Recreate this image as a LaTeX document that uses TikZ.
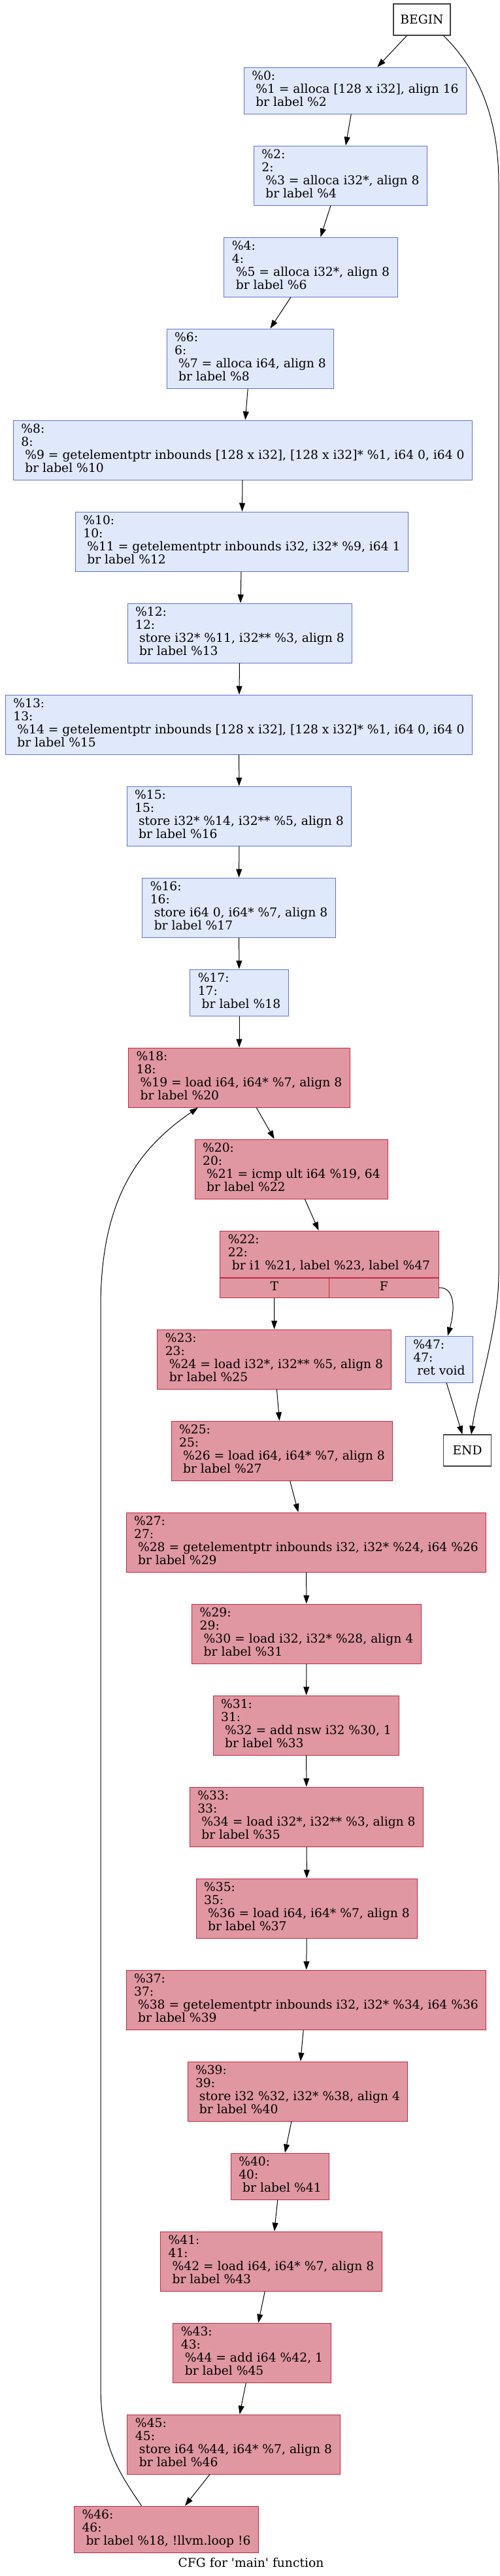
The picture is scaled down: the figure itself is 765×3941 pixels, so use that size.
\documentclass[tikz,border=0pt]{standalone}
\usepackage{fontspec}
\usetikzlibrary{arrows.meta}
\newfontfamily\cfgfont{DejaVu Serif}
\definecolor{coldfill}{HTML}{E0E9FB}
\definecolor{colddraw}{HTML}{5F72D4}
\definecolor{hotfill}{HTML}{E097A1}
\definecolor{hotdraw}{HTML}{C42743}
\begin{document}
\begin{tikzpicture}[x=1pt, y=-1pt,
  bb/.style={draw=colddraw, fill=coldfill, line width=1pt, align=left, inner xsep=12pt, inner ysep=0pt,
    minimum height=91pt, font=\cfgfont\fontsize{18.7}{20}\selectfont,
    execute at begin node=\strut, execute at end node=\strut},
  hot/.style={bb, draw=hotdraw, fill=hotfill},
  threeline/.style={minimum height=71pt},
  cell/.style={hot, align=center, inner xsep=0pt, minimum width=167.5pt, minimum height=30pt},
  term/.style={draw=black!75, line width=1.1pt, minimum height=48pt, inner sep=0pt, font=\cfgfont\fontsize{18.7}{20}\selectfont},
  flow/.style={line width=1pt, -{Triangle[length=13pt,width=9pt]}}]
\useasboundingbox (0,0) rectangle (765,3941);
% entry part
\node[term, minimum width=87pt] (begin) at (645.5,30) {BEGIN};
\node[bb, threeline] (bb0) at (543.5,138.5) {\%0:\\~\%1 = alloca [128 x i32], align 16\\~br label \%2};
\node[bb] (bb2) at (521,268.5) {\%2:\\2:\\~\%3 = alloca i32*, align 8\\~br label \%4};
\node[bb] (bb4) at (475.5,408.5) {\%4:\\4:\\~\%5 = alloca i32*, align 8\\~br label \%6};
\node[bb] (bb6) at (383,548.5) {\%6:\\6:\\~\%7 = alloca i64, align 8\\~br label \%8};
\node[bb] (bb8) at (371.5,688.5) {\%8:\\8:\\~\%9 = getelementptr inbounds [128 x i32], [128 x i32]* \%1, i64 0, i64 0\\~br label \%10};
\node[bb] (bb10) at (370,828.5) {\%10:\\10:\\~\%11 = getelementptr inbounds i32, i32* \%9, i64 1\\~br label \%12};
\node[bb] (bb12) at (367,968.5) {\%12:\\12:\\~store i32* \%11, i32** \%3, align 8\\~br label \%13};
\node[bb] (bb13) at (365.5,1108.5) {\%13:\\13:\\~\%14 = getelementptr inbounds [128 x i32], [128 x i32]* \%1, i64 0, i64 0\\~br label \%15};
\node[bb] (bb15) at (366,1248.5) {\%15:\\15:\\~store i32* \%14, i32** \%5, align 8\\~br label \%16};
\node[bb] (bb16) at (365.5,1388.5) {\%16:\\16:\\~store i64 0, i64* \%7, align 8\\~br label \%17};
\node[bb, threeline] (bb17) at (366,1518.5) {\%17:\\17:\\~br label \%18};
% loop
\node[hot] (bb18) at (366,1648.5) {\%18:\\18:\\~\%19 = load i64, i64* \%7, align 8\\~br label \%20};
\node[hot] (bb20) at (446,1788.5) {\%20:\\20:\\~\%21 = icmp ult i64 \%19, 64\\~br label \%22};
\node[hot, threeline, minimum width=335pt] (bb22) at (503.5,1918.5) {\%22:\\22:\\~br i1 \%21, label \%23, label \%47};
\node[cell, anchor=north west] (bb22t) at (bb22.south west) {T};
\node[cell, anchor=north east] (bb22f) at (bb22.south east) {F};
\node[hot] (bb23) at (419.5,2079.5) {\%23:\\23:\\~\%24 = load i32*, i32** \%5, align 8\\~br label \%25};
\node[bb, threeline] (bb47) at (672,2079.5) {\%47:\\47:\\~ret void};
\node[term, minimum width=73pt] (end) at (715,2219) {END};
\node[hot] (bb25) at (431.5,2219.5) {\%25:\\25:\\~\%26 = load i64, i64* \%7, align 8\\~br label \%27};
\node[hot] (bb27) at (468.5,2359.5) {\%27:\\27:\\~\%28 = getelementptr inbounds i32, i32* \%24, i64 \%26\\~br label \%29};
\node[hot] (bb29) at (469,2499.5) {\%29:\\29:\\~\%30 = load i32, i32* \%28, align 4\\~br label \%31};
\node[hot] (bb31) at (468.5,2639.5) {\%31:\\31:\\~\%32 = add nsw i32 \%30, 1\\~br label \%33};
\node[hot] (bb33) at (469,2779.5) {\%33:\\33:\\~\%34 = load i32*, i32** \%3, align 8\\~br label \%35};
\node[hot] (bb35) at (469.5,2919.5) {\%35:\\35:\\~\%36 = load i64, i64* \%7, align 8\\~br label \%37};
\node[hot] (bb37) at (468.5,3059.5) {\%37:\\37:\\~\%38 = getelementptr inbounds i32, i32* \%34, i64 \%36\\~br label \%39};
\node[hot] (bb39) at (455.5,3199.5) {\%39:\\39:\\~store i32 \%32, i32* \%38, align 4\\~br label \%40};
\node[hot, threeline] (bb40) at (428.5,3329.5) {\%40:\\40:\\~br label \%41};
\node[hot] (bb41) at (415,3459.5) {\%41:\\41:\\~\%42 = load i64, i64* \%7, align 8\\~br label \%43};
\node[hot] (bb43) at (385.5,3599.5) {\%43:\\43:\\~\%44 = add i64 \%42, 1\\~br label \%45};
\node[hot] (bb45) at (357.5,3739.5) {\%45:\\45:\\~store i64 \%44, i64* \%7, align 8\\~br label \%46};
\node[hot, threeline] (bb46) at (254.5,3869.5) {\%46:\\46:\\~br label \%18, !llvm.loop !6};
\node[font=\cfgfont\fontsize{18.7}{20}\selectfont, anchor=base] (caption) at (384,3927) {CFG for 'main' function};
% edges
\draw[flow] (begin) -- (bb0);
\draw[flow] ([xshift=33pt]begin.south) .. controls (725,100) and (763,170) .. (763,280) -- (763,1950) .. controls (763,2030) and (730,2130) .. ([xshift=6pt]end.north);
\draw[flow] (bb0) -- (bb2);
\draw[flow] (bb2) -- (bb4);
\draw[flow] (bb4) -- (bb6);
\draw[flow] (bb6) -- (bb8);
\draw[flow] (bb8) -- (bb10);
\draw[flow] (bb10) -- (bb12);
\draw[flow] (bb12) -- (bb13);
\draw[flow] (bb13) -- (bb15);
\draw[flow] (bb15) -- (bb16);
\draw[flow] (bb16) -- (bb17);
\draw[flow] (bb17) -- (bb18);
\draw[flow] (bb18) -- (bb20);
\draw[flow] (bb20) -- (bb22);
\draw[flow] (bb22t) -- (bb23);
\draw[flow] (bb22f.east) .. controls (695,1969) and (697,2000) .. ([xshift=13pt]bb47.north);
\draw[flow] (bb47) -- (end);
\draw[flow] (bb23) -- (bb25);
\draw[flow] (bb25) -- (bb27);
\draw[flow] (bb27) -- (bb29);
\draw[flow] (bb29) -- (bb31);
\draw[flow] (bb31) -- (bb33);
\draw[flow] (bb33) -- (bb35);
\draw[flow] (bb35) -- (bb37);
\draw[flow] (bb37) -- (bb39);
\draw[flow] (bb39) -- (bb40);
\draw[flow] (bb40) -- (bb41);
\draw[flow] (bb41) -- (bb43);
\draw[flow] (bb43) -- (bb45);
\draw[flow] (bb45) -- (bb46);
\draw[flow] ([xshift=-38pt]bb46.north) .. controls (180,3780) and (154,3740) .. (154,3650) -- (154,2000) .. controls (154,1830) and (215,1755) .. ([xshift=-63pt]bb18.south);
\end{tikzpicture}
\end{document}
